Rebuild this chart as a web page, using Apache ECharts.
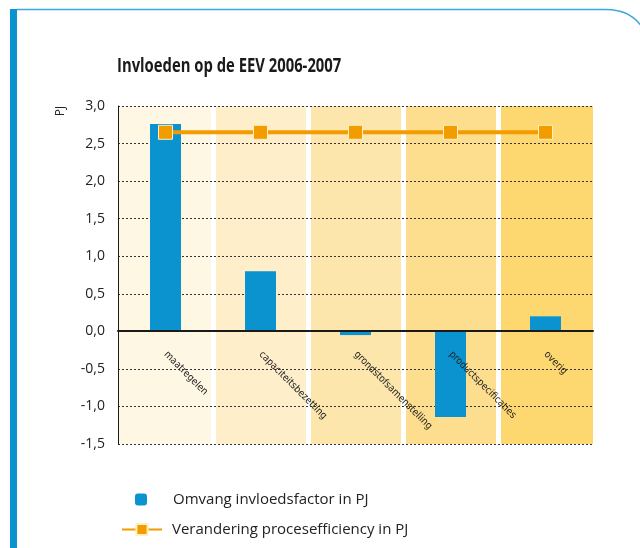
<!DOCTYPE html>
<html>
<head>
<meta charset="utf-8">
<script src="https://cdn.jsdelivr.net/npm/echarts@6/dist/echarts.min.js"></script>
<style>
  html, body { margin: 0; padding: 0; background: #fff; }
  #chart { width: 640px; height: 548px; }
</style>
</head>
<body>
<div id="chart"></div>
<script>
// data
const categories = ['maatregelen', 'capaciteitsbezetting', 'grondstofsamenstelling', 'productspecificaties', 'overig'];
const omvang = [2.76, 0.80, -0.05, -1.14, 0.20];
const verandering = [2.65, 2.65, 2.65, 2.65, 2.65];
const bandColors = ['#fef7e4', '#feeeca', '#fde6ac', '#fdde8e', '#fdd76f'];
const yMin = -1.5, yMax = 3.0, yStep = 0.5;

const FONT = '"Open Sans", "DejaVu Sans", sans-serif';
const NARROW = '"DejaVu Sans Condensed", "Liberation Sans Narrow", "Open Sans", sans-serif';

let chart = echarts.init(document.getElementById('chart'));

let option = {
  animation: false,
  textStyle: { fontFamily: FONT },
  grid: { left: 118, right: 47, top: 106, bottom: 104 },
  graphic: [
    { type: 'rect', shape: { x: 10, y: 9, width: 7, height: 545 }, style: { fill: '#0a93ce' } },
    {
      type: 'line',
      shape: { x1: 17, y1: 9.5, x2: 606, y2: 9.5 },
      style: { stroke: '#3aa7dd', lineWidth: 1.5 }
    },
    {
      type: 'bezierCurve',
      shape: { x1: 606, y1: 9.5, cpx1: 630, cpy1: 9.5, x2: 642, y2: 27 },
      style: { fill: null, stroke: '#3aa7dd', lineWidth: 1.5 }
    },
    {
      type: 'text', x: 117, y: 66, scaleX: 0.76,
      style: { text: 'Invloeden op de EEV 2006-2007', font: 'bold 19.5px ' + FONT, fill: '#1a1a1a', verticalAlign: 'middle' }
    },
    {
      type: 'text', x: 61, y: 111, rotation: Math.PI / 2,
      style: { text: 'PJ', font: '12px ' + FONT, fill: '#222', align: 'center', verticalAlign: 'middle' }
    }
  ],
  legend: [
    {
      data: ['Omvang invloedsfactor in PJ'],
      left: 130, top: 487,
      itemWidth: 12, itemHeight: 12,
      textStyle: { fontSize: 15, color: '#222', padding: [0, 0, 0, 21] }
    },
    {
      data: ['Verandering procesefficiency in PJ'],
      left: 116, top: 517,
      itemWidth: 40, itemHeight: 14,
      textStyle: { fontSize: 15, color: '#222', padding: [0, 0, 0, 5] }
    }
  ],
  xAxis: [
    {
      // background bands
      type: 'category',
      data: categories,
      z: 0,
      axisLine: { show: false },
      axisTick: { show: false },
      axisLabel: { show: false, interval: 0 },
      splitArea: { show: true, interval: 0, areaStyle: { color: bandColors, opacity: 1 } },
      splitLine: { show: true, interval: 0, showMinLine: false, showMaxLine: false, lineStyle: { color: '#fff', width: 5 } }
    },
    {
      // zero line + labels, drawn over the bars
      type: 'category',
      data: categories,
      position: 'bottom',
      offset: -113,
      z: 5,
      axisLine: { onZero: false, lineStyle: { color: '#1a1a1a', width: 2 } },
      axisTick: { show: false },
      axisLabel: { interval: 0, rotate: -45, margin: 22, fontSize: 10, color: '#222', fontFamily: NARROW },
      splitLine: { show: false },
      splitArea: { show: false }
    }
  ],
  yAxis: {
    type: 'value',
    z: 1,
    min: yMin, max: yMax, interval: yStep,
    axisLine: { show: true, onZero: false, lineStyle: { color: '#1a1a1a', width: 1 } },
    axisTick: { show: false },
    axisLabel: {
      margin: 13, fontSize: 14, color: '#222',
      formatter: (v) => v.toFixed(1).replace('.', ',')
    },
    splitLine: { lineStyle: { color: '#333', type: [2, 2], width: 1 } }
  },
  series: [
    {
      name: 'Omvang invloedsfactor in PJ',
      type: 'bar',
      data: omvang,
      barWidth: 31,
      itemStyle: { color: '#0a93ce' },
      z: 2
    },
    {
      name: 'Verandering procesefficiency in PJ',
      type: 'line',
      data: verandering,
      symbol: 'rect',
      symbolSize: 14,
      lineStyle: { color: '#f39c00', width: 4 },
      itemStyle: { color: '#f39c00', borderColor: '#fff0c4', borderWidth: 1 },
      z: 3
    }
  ]
};

chart.setOption(option);
</script>
</body>
</html>
